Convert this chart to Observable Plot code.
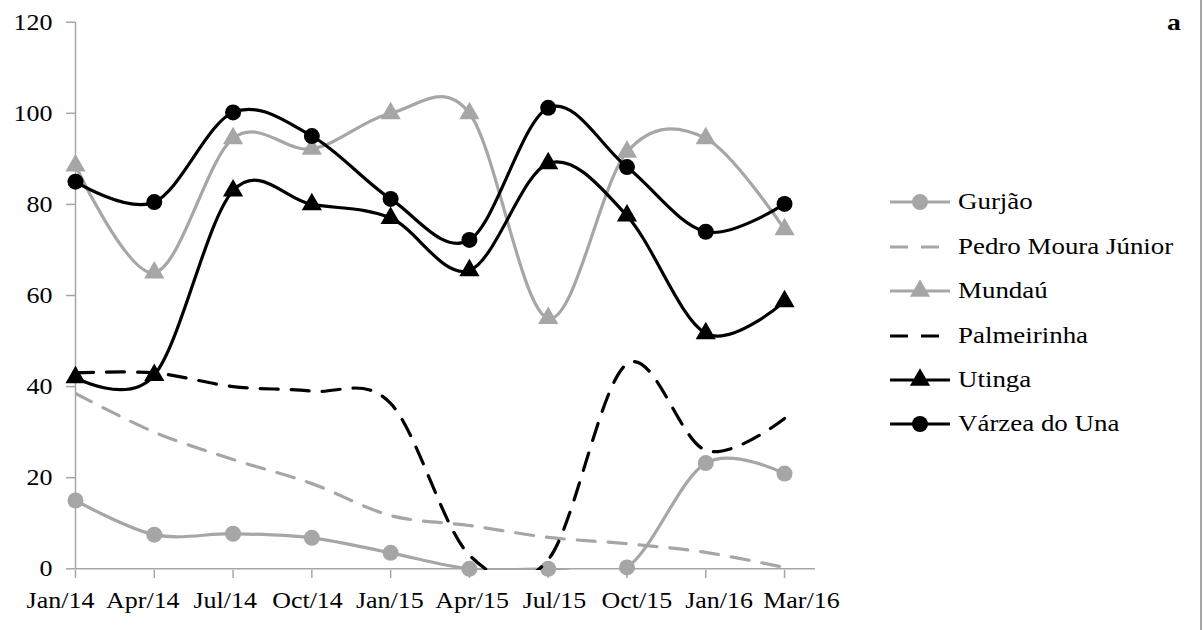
<!DOCTYPE html>
<html><head><meta charset="utf-8">
<script src="https://cdn.jsdelivr.net/npm/d3@7"></script>
<script src="https://cdn.jsdelivr.net/npm/@observablehq/plot@0.6"></script>
<style>
body{margin:0;background:#fff;}
#wrap{position:relative;width:1203px;height:630px;overflow:hidden;background:#fff;font-family:"Liberation Serif","Times New Roman",serif;color:#000;}
#chart{position:absolute;left:0;top:0;}
#chart [aria-label="y-axis tick"], #chart [aria-label="x-axis tick"]{stroke:#a6a6a6;stroke-width:1.5px;}
#border{position:absolute;left:1200px;top:0;width:2px;height:630px;background:#a6a6a6;}
#legend{position:absolute;left:888px;top:0;}
.row{position:absolute;left:0;display:flex;align-items:center;height:30px;white-space:nowrap;font-size:23px;}
.row svg{margin-right:6px;}
.row span{display:inline-block;transform:scaleX(1.17);transform-origin:left center;}
#tag{position:absolute;left:1167px;top:9px;font-weight:bold;font-size:24px;line-height:1.107;transform:scaleX(1.15);transform-origin:left center;}
</style></head>
<body>
<div id="wrap"><div id="chart"></div><div id="legend"></div><div id="tag">a</div><div id="border"></div></div>
<script>
const months = ["Jan/14","Apr/14","Jul/14","Oct/14","Jan/15","Apr/15","Jul/15","Oct/15","Jan/16","Mar/16"];
const yTicks = [0,20,40,60,80,100,120];
const seriesNames = ["Gurjão","Pedro Moura Júnior","Mundaú","Palmeirinha","Utinga","Várzea do Una"];
const gurjao      = [15, 7.5, 7.7, 6.8, 3.5, 0, 0, 0.3, 23.2, 20.9];
const pedro       = [38.5, 30, 24, 18.7, 11.7, 9.5, 6.9, 5.5, 3.6, 0.3];
const mundau      = [88.5, 65, 94.5, 92.2, 100, 100, 55, 91.5, 94.5, 74.5];
const palmeirinha = [43, 43, 40, 39, 36.3, 3, 2, 45, 26, 33];
const utinga      = [42, 42.5, 83, 80, 77, 65.5, 89, 77.5, 51.7, 58.7];
const varzea      = [85, 80.5, 100.2, 95, 81.2, 72.2, 101.2, 88.2, 74, 80.1];

const GRAY = "#a6a6a6", BLACK = "#000";
const styles = [
  {values: gurjao, color: GRAY, dash: null, symbol: "circle", r: 8},
  {values: pedro, color: GRAY, dash: "18,13", symbol: null},
  {values: mundau, color: GRAY, dash: null, symbol: "triangle", r: 7.5},
  {values: palmeirinha, color: BLACK, dash: "18,13", symbol: null},
  {values: utinga, color: BLACK, dash: null, symbol: "triangle", r: 7.5},
  {values: varzea, color: BLACK, dash: null, symbol: "circle", r: 8}
];

const marks = [
  Plot.ruleY([0], {stroke: GRAY, strokeWidth: 1.5}),
  Plot.ruleX([0], {y1: 0, y2: 120, stroke: GRAY, strokeWidth: 1.5}),
  Plot.axisY({ticks: yTicks, tickSize: 9, tickPadding: 14, label: null, color: BLACK}),
  Plot.axisX({ticks: d3.range(months.length), tickFormat: i => months[i], tickSize: 8, tickPadding: 13, label: null, color: BLACK})
];
styles.forEach((s, k) => {
  const data = s.values.map((v, i) => ({i, v}));
  marks.push(Plot.line(data, {x: "i", y: "v", stroke: s.color, strokeWidth: 3.2, curve: "cardinal", tension: 0,
    strokeDasharray: s.dash || undefined, clip: true}));
  if (s.symbol) marks.push(Plot.dot(data, {x: "i", y: "v", fill: s.color, stroke: "none", symbol: s.symbol, r: s.r}));
});

const plot = Plot.plot({
  width: 1203, height: 630,
  marginLeft: 75, marginRight: 388, marginTop: 20, marginBottom: 60,
  x: {type: "linear", domain: [0, 9.393], range: [75, 815], axis: null},
  y: {type: "linear", domain: [0, 120], range: [568.3, 21.7], axis: null},
  style: {fontFamily: "'Liberation Serif','Times New Roman',serif", fontSize: "23px", color: "#000", background: "transparent"},
  marks
});
document.getElementById("chart").appendChild(plot);
// widen the serif labels slightly, as in the original rendering
const xLab = plot.querySelector('g[aria-label="x-axis tick label"]');
d3.select(plot).selectAll("text").each(function() {
  const L = this.getComputedTextLength();
  const f = xLab && xLab.contains(this) ? 1.08 : 1.13;
  if (L > 0) { this.setAttribute("textLength", (L * f).toFixed(1)); this.setAttribute("lengthAdjust", "spacingAndGlyphs"); }
});
// the original spreads the month labels a little wider than the tick spacing
if (xLab) xLab.setAttribute("transform", "matrix(1.045,0,0,1,-18.4,0) " + (xLab.getAttribute("transform") || ""));

// legend
const leg = d3.select("#legend");
const rowY = [202, 246.5, 291, 335.5, 380, 424];
styles.forEach((s, k) => {
  const row = leg.append("div").attr("class", "row").style("top", (rowY[k] - 15) + "px");
  const sv = row.append("svg").attr("width", 64).attr("height", 30);
  sv.append("line").attr("x1", 2).attr("x2", 62).attr("y1", 15).attr("y2", 15)
    .attr("stroke", s.color).attr("stroke-width", 3.2).attr("stroke-dasharray", s.dash ? "18,13" : null);
  if (s.symbol) sv.append("path").attr("transform", "translate(32,15)")
    .attr("d", d3.symbol(s.symbol === "circle" ? d3.symbolCircle : d3.symbolTriangle, Math.PI * s.r * s.r)())
    .attr("fill", s.color);
  row.append("span").text(seriesNames[k]);
});
</script>
</body></html>
